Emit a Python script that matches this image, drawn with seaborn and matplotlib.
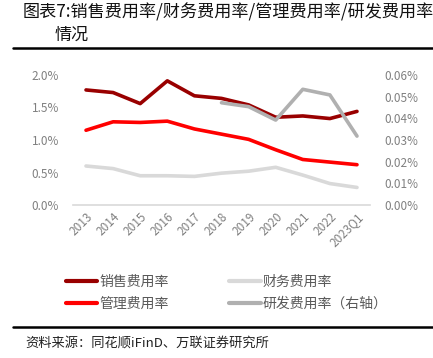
import matplotlib
matplotlib.use("Agg")
import matplotlib.pyplot as plt
import seaborn as sns
import pandas as pd
import numpy as np
from matplotlib.lines import Line2D
from matplotlib.ticker import FuncFormatter

sns.set_theme(style="white")
plt.rcParams['font.family'] = ['Noto Sans CJK SC', 'DejaVu Sans']

periods = ["2013", "2014", "2015", "2016", "2017", "2018", "2019", "2020", "2021", "2022", "2023Q1"]
sales_rate = [1.77, 1.73, 1.56, 1.91, 1.68, 1.64, 1.54, 1.35, 1.37, 1.33, 1.44]
finance_rate = [0.60, 0.56, 0.45, 0.45, 0.44, 0.49, 0.52, 0.58, 0.46, 0.33, 0.27]
admin_rate = [1.15, 1.28, 1.27, 1.29, 1.17, 1.09, 1.01, 0.85, 0.70, 0.66, 0.62]
rd_rate = [None, None, None, None, None, 0.0472, 0.0454, 0.0392, 0.0534, 0.0508, 0.0318]

names = ["销售费用率", "财务费用率", "管理费用率", "研发费用率（右轴）"]
colors = ["#990000", "#D9D9D9", "#FF0000", "#B0B0B0"]

x = np.arange(len(periods))
df = pd.DataFrame({"x": x, "sales": sales_rate, "finance": finance_rate,
                   "admin": admin_rate, "rd": rd_rate})

fig = plt.figure(figsize=(4.33, 3.58), dpi=100)
ax = fig.add_axes([73/433, 1-205/358, (370-73)/433, 130/358])
ax2 = ax.twinx()

lw = 2.6
sns.lineplot(data=df, x="x", y="finance", ax=ax, color=colors[1], linewidth=lw)
sns.lineplot(data=df, x="x", y="admin", ax=ax, color=colors[2], linewidth=lw)
sns.lineplot(data=df, x="x", y="sales", ax=ax, color=colors[0], linewidth=lw)
sns.lineplot(data=df.dropna(), x="x", y="rd", ax=ax2, color=colors[3], linewidth=lw)

ax.set_xlim(-0.48, 10.48)
ax.set_ylim(0, 2.0)
ax2.set_ylim(0, 0.06)
ax.set_yticks([0, 0.5, 1.0, 1.5, 2.0])
ax2.set_yticks([0, 0.01, 0.02, 0.03, 0.04, 0.05, 0.06])
ax.yaxis.set_major_formatter(FuncFormatter(lambda v, p: f"{v:.1f}%"))
ax2.yaxis.set_major_formatter(FuncFormatter(lambda v, p: f"{v:.2f}%"))
ax.set_xticks(x)
ax.set_xticklabels(periods, rotation=45, ha="right", rotation_mode="anchor")
for a in (ax, ax2):
    a.set_xlabel("")
    a.set_ylabel("")
    for s in a.spines.values():
        s.set_visible(False)
    a.tick_params(length=0, colors="#808080", labelsize=8.5)
    a.grid(False)
ax.spines["bottom"].set_visible(True)
ax.spines["bottom"].set_color("#D9D9D9")
ax.spines["bottom"].set_linewidth(1.2)
ax.tick_params(axis="y", pad=10)
ax2.tick_params(axis="y", pad=10)
ax.tick_params(axis="x", pad=4)
for lab in ax.get_xticklabels():
    lab.set_color("#808080")

# Title
fig.text(23/433, 1-12/358, "图表7:销售费用率/财务费用率/管理费用率/研发费用率", fontsize=12.3,
         ha="left", va="center", color="#111111")
fig.text(55/433, 1-35/358, "情况", fontsize=12.3, ha="left", va="center", color="#111111")
fig.add_artist(Line2D([13/433, 1], [1-48/358, 1-48/358], color="black", linewidth=1.8))

# Legend (column-wise fill: col1 = 销售, 管理; col2 = 财务, 研发)
order = [0, 2, 1, 3]
handles = [Line2D([], [], color=colors[i], linewidth=3) for i in order]
labels = [names[i] for i in order]
fig.legend(handles=handles, labels=labels, loc="upper left", bbox_to_anchor=(53/433, 1-262/358),
           ncol=2, frameon=False, fontsize=10, handlelength=2.3, handletextpad=0.15,
           columnspacing=4.3, labelspacing=0.6, labelcolor="#595959")

fig.add_artist(Line2D([13/433, 1], [1-327/358, 1-327/358], color="black", linewidth=1.8))
fig.text(25/433, 1-343/358, "资料来源：同花顺iFinD、万联证券研究所", fontsize=9.5, style="italic",
         ha="left", va="center", color="#222222")

fig.savefig("out.png", dpi=100)
